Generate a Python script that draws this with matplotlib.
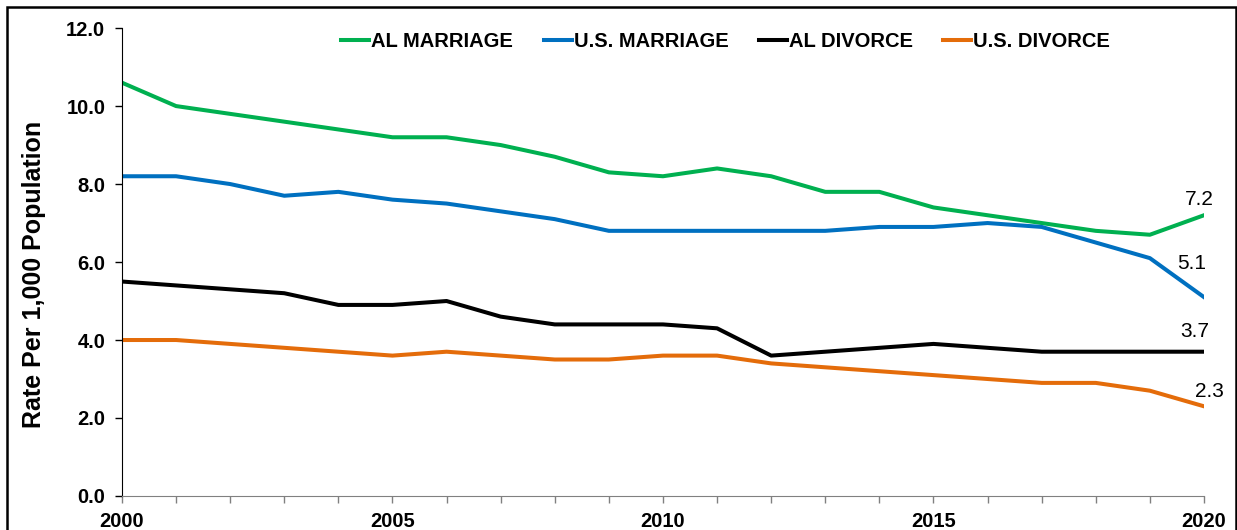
import numpy as np
import matplotlib.pyplot as plt
from matplotlib.patches import Rectangle
from matplotlib.ticker import MultipleLocator

plt.rcParams['font.family'] = ['Liberation Sans', 'DejaVu Sans']

years = list(range(2000, 2021))
al_marriage = [10.6, 10.0, 9.8, 9.6, 9.4, 9.2, 9.2, 9.0, 8.7, 8.3, 8.2,
               8.4, 8.2, 7.8, 7.8, 7.4, 7.2, 7.0, 6.8, 6.7, 7.2]
us_marriage = [8.2, 8.2, 8.0, 7.7, 7.8, 7.6, 7.5, 7.3, 7.1, 6.8, 6.8,
               6.8, 6.8, 6.8, 6.9, 6.9, 7.0, 6.9, 6.5, 6.1, 5.1]
al_divorce = [5.5, 5.4, 5.3, 5.2, 4.9, 4.9, 5.0, 4.6, 4.4, 4.4, 4.4,
              4.3, 3.6, 3.7, 3.8, 3.9, 3.8, 3.7, 3.7, 3.7, 3.7]
us_divorce = [4.0, 4.0, 3.9, 3.8, 3.7, 3.6, 3.7, 3.6, 3.5, 3.5, 3.6,
              3.6, 3.4, 3.3, 3.2, 3.1, 3.0, 2.9, 2.9, 2.7, 2.3]

# name, values, colour, label offset (points) for the 2020 value
series = [
    ('AL MARRIAGE', al_marriage, '#00B050', (-3, 11)),
    ('U.S. MARRIAGE', us_marriage, '#0070C0', (-9, 24.5)),
    ('AL DIVORCE', al_divorce, '#000000', (-6.5, 14.4)),
    ('U.S. DIVORCE', us_divorce, '#E46C0A', (3.6, 10.8)),
]

fig = plt.figure(figsize=(12.37, 5.30), dpi=100)
ax = fig.add_axes([0.0986, 0.0642, 0.8747, 0.8828])

for name, vals, col, off in series:
    ax.plot(years, vals, color=col, linewidth=2.9, label=name)
    ax.annotate('%.1f' % vals[-1], (years[-1], vals[-1]), xytext=off,
                textcoords='offset points', ha='center', va='center',
                fontsize=15)

ax.set_xlim(2000, 2020)
ax.set_ylim(0, 12)
ax.yaxis.set_major_locator(MultipleLocator(2))
ax.xaxis.set_major_locator(MultipleLocator(5))
ax.xaxis.set_minor_locator(MultipleLocator(1))
ax.yaxis.set_major_formatter(plt.FuncFormatter(lambda v, p: '%.1f' % v))

for s in ['top', 'right']:
    ax.spines[s].set_visible(False)
ax.spines['left'].set_color('black')
ax.spines['bottom'].set_color('#808080')
ax.tick_params(axis='y', length=5, width=1, pad=7, labelsize=14.5)
ax.tick_params(axis='x', which='both', length=5, width=1, color='#808080',
               pad=6.5, labelsize=14.5)
for lab in ax.get_xticklabels() + ax.get_yticklabels():
    lab.set_fontweight('bold')

ax.set_ylabel('Rate Per 1,000 Population', fontsize=18, fontweight='bold')
ax.yaxis.set_label_coords(-0.070, 0.474)

leg = ax.legend(loc='upper center', bbox_to_anchor=(0.558, 1.03), ncol=4,
                frameon=False, handlelength=1.4, handletextpad=0.1,
                columnspacing=1.5, prop={'weight': 'bold', 'size': 14.5})

fig.patches.append(Rectangle((0.006, -0.1), 0.993, 1.087, transform=fig.transFigure,
                             fill=False, edgecolor='black', linewidth=1.8))

fig.savefig('out.png', dpi=100)
